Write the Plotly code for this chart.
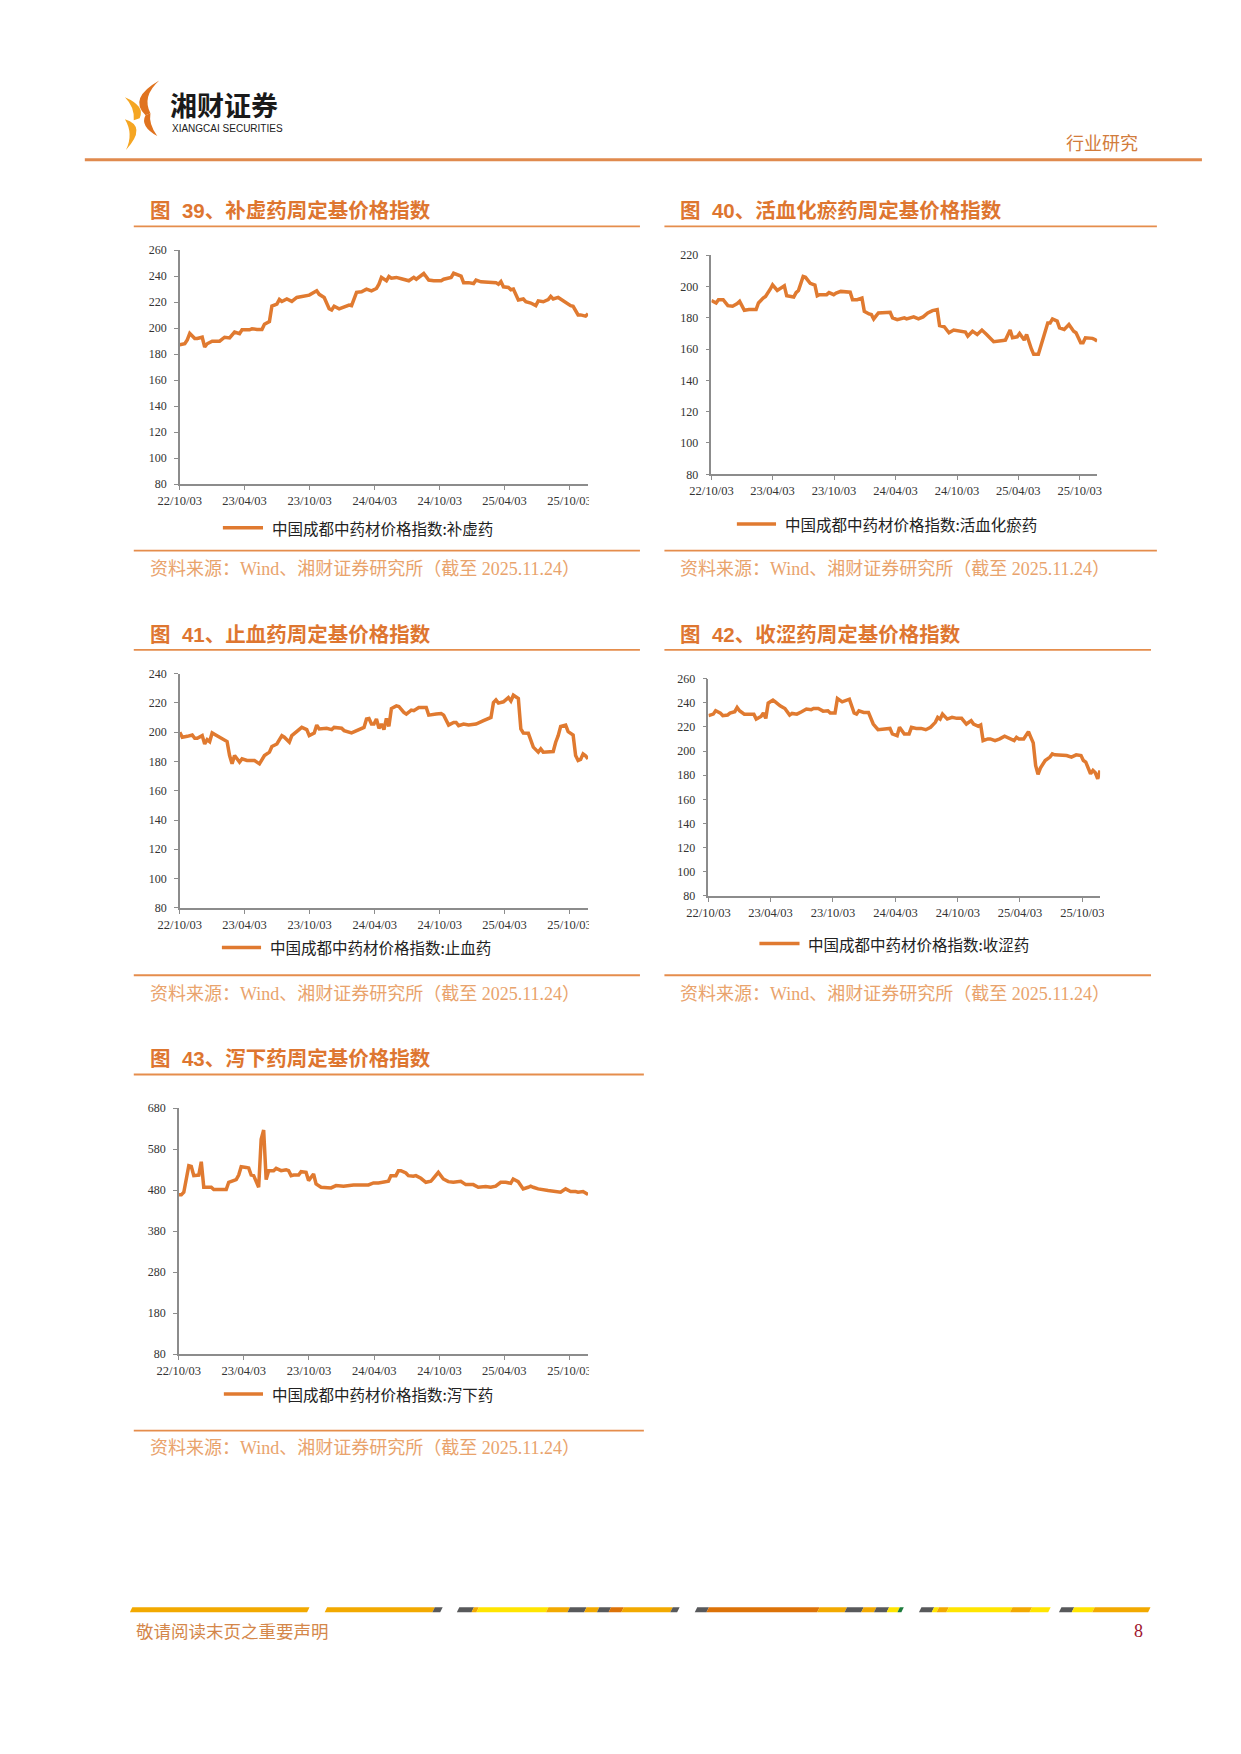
import plotly.graph_objects as go

# ---------------- data ----------------
dates_39 = ["2022-10-03","2022-10-17","2022-10-24","2022-10-31","2022-11-14","2022-11-21","2022-12-05","2022-12-12","2022-12-19",
            "2023-01-02","2023-01-23","2023-02-06","2023-02-20","2023-03-06","2023-03-20","2023-03-27","2023-04-17","2023-04-24",
            "2023-05-08","2023-05-22","2023-05-29","2023-06-12","2023-06-19","2023-07-03","2023-07-10","2023-07-17","2023-07-31",
            "2023-08-14","2023-08-28","2023-09-18","2023-10-02","2023-10-23","2023-10-30","2023-11-13","2023-11-27","2023-12-04",
            "2023-12-11","2023-12-25","2024-01-08","2024-01-22","2024-01-29","2024-02-12","2024-02-26","2024-03-11","2024-03-25",
            "2024-04-08","2024-04-15","2024-04-22","2024-05-06","2024-05-13","2024-05-20","2024-06-03","2024-06-17","2024-07-08",
            "2024-07-22","2024-07-29","2024-08-19","2024-09-02","2024-09-16","2024-10-07","2024-10-14","2024-11-04","2024-11-11",
            "2024-11-25","2024-12-02","2024-12-09","2024-12-23","2025-01-06","2025-01-13","2025-01-27","2025-02-24","2025-03-10",
            "2025-03-17","2025-03-24","2025-03-31","2025-04-14","2025-04-21","2025-04-28","2025-05-12","2025-05-26","2025-06-02",
            "2025-06-16","2025-06-30","2025-07-07","2025-07-21","2025-08-04","2025-08-11","2025-08-18","2025-09-01","2025-09-22",
            "2025-10-06","2025-10-13","2025-10-27","2025-11-03","2025-11-17","2025-11-24"]
values_39 = [187.3,188,191,196,192,192,193,185.5,188,
             190,190,193,192.5,197,195.7,198.7,198.7,199.5,
             199,199,203,205,217,218.5,222,220.5,222.4,
             220.6,223.6,225,225.4,228.7,226,223.6,215,214,
             216.8,214.8,216,217.8,217.3,227.5,228,230,228.7,
             230.5,233.8,239,236.4,239.7,238.4,239,238,236.4,
             239,237.6,242,237,236.4,236.4,237.6,239,242.2,
             240.7,240,235,235,234.3,236.9,235.6,235.6,235,
             233.8,235.8,231.8,231.3,229.5,230,221.6,222.4,220.3,
             219.3,217.3,221,220.3,222,224.4,222.4,223.6,219.8,
             217.3,216.8,210.2,210.2,209.2,211]

dates_40 = ["2022-10-03","2022-10-10","2022-10-17","2022-10-24","2022-11-07","2022-11-21","2022-12-05","2022-12-19","2022-12-26",
            "2023-01-09","2023-01-23","2023-02-13","2023-02-20","2023-03-06","2023-03-13","2023-03-27","2023-04-03","2023-04-17",
            "2023-05-08","2023-05-15","2023-06-05","2023-06-12","2023-06-19","2023-07-03","2023-07-10","2023-07-24","2023-08-07",
            "2023-08-14","2023-08-21","2023-09-11","2023-09-18","2023-10-02","2023-10-09","2023-10-23","2023-11-20","2023-11-27",
            "2023-12-11","2023-12-25","2024-01-01","2024-01-15","2024-01-22","2024-01-29","2024-02-12","2024-03-18","2024-03-25",
            "2024-04-08","2024-04-29","2024-05-06","2024-05-27","2024-06-10","2024-06-24","2024-07-08","2024-07-22","2024-08-05",
            "2024-08-12","2024-08-26","2024-09-09","2024-09-23","2024-10-14","2024-10-28","2024-11-04","2024-11-18","2024-12-02",
            "2024-12-16","2024-12-30","2025-01-20","2025-02-17","2025-02-24","2025-03-10","2025-03-17","2025-03-31","2025-04-07",
            "2025-04-21","2025-04-28","2025-05-12","2025-05-19","2025-06-02","2025-06-16","2025-06-30","2025-07-07","2025-07-14",
            "2025-07-28","2025-08-04","2025-08-18","2025-09-01","2025-09-15","2025-09-22","2025-10-06","2025-10-13","2025-10-20",
            "2025-11-10","2025-11-17","2025-11-24"]
values_40 = [191,190.4,189.4,191.5,191.5,187.7,187.3,189,190.4,
             184.7,185.2,185.2,189.4,192.5,193.6,198.2,201,197.4,
             200.4,194,193.2,196,197.4,206.3,205.8,202,200.8,
             194,194.7,194.7,196,194.7,195.7,196.8,196.3,191.5,
             191.5,192.5,184.1,182.4,182,179.2,183,183.5,179.9,
             178.8,179.9,179.2,180.5,179.2,180.5,183,184.5,185.2,
             175,174.2,170.4,172.1,171.4,170.8,168.3,171.4,169.3,
             172.1,169.3,164.7,165.5,165.7,172.1,167.2,167.8,169.9,
             165.7,169.3,160.2,156.6,156.6,167.2,176.7,176.7,179.2,
             177.8,173.5,172.5,175.6,171.4,170.4,164,164,167.2,
             166.8,166.1,165.1]

dates_41 = ["2022-10-03","2022-10-10","2022-10-24","2022-11-07","2022-11-14","2022-11-21","2022-12-05","2022-12-12","2022-12-19",
            "2022-12-26","2023-01-02","2023-01-16","2023-01-23","2023-02-13","2023-02-20","2023-02-27","2023-03-06","2023-03-20",
            "2023-03-27","2023-04-10","2023-05-01","2023-05-15","2023-05-29","2023-06-12","2023-06-19","2023-07-03","2023-07-17",
            "2023-07-24","2023-08-07","2023-08-14","2023-08-28","2023-09-11","2023-09-25","2023-10-02","2023-10-16","2023-10-23",
            "2023-10-30","2023-11-20","2023-12-04","2023-12-11","2024-01-01","2024-01-08","2024-01-29","2024-02-12","2024-03-04",
            "2024-03-11","2024-03-18","2024-03-25","2024-04-01","2024-04-08","2024-04-15","2024-04-22","2024-04-29","2024-05-06",
            "2024-05-13","2024-05-20","2024-06-03","2024-06-10","2024-06-24","2024-07-01","2024-07-15","2024-07-22","2024-08-05",
            "2024-08-26","2024-09-02","2024-09-23","2024-10-07","2024-10-14","2024-10-28","2024-11-11","2024-11-18","2024-11-25",
            "2024-12-09","2024-12-23","2025-01-06","2025-01-13","2025-02-03","2025-02-24","2025-03-03","2025-03-10","2025-03-17",
            "2025-03-31","2025-04-14","2025-04-21","2025-04-28","2025-05-12","2025-05-19","2025-05-26","2025-06-09","2025-06-23",
            "2025-07-07","2025-07-14","2025-07-21","2025-08-18","2025-08-25","2025-09-01","2025-09-08","2025-09-22","2025-09-29",
            "2025-10-13","2025-10-20","2025-10-27","2025-11-03","2025-11-10","2025-11-17","2025-11-24"]
values_41 = [200,196.6,197.2,198.1,195.9,195.9,197.7,192,195,
             193.6,199.5,197.2,196.6,193.6,184.1,178.4,184.1,179.6,
             181.8,180.7,180.7,178.4,184.1,186.4,190.2,192,197.7,
             196.6,193.2,197.7,200.4,203.3,201.8,197.7,199.5,204.9,
             202.2,202.7,201.8,203.3,202.7,201.1,199.5,201.1,203.3,
             209,209.4,205.6,205.6,209,202.7,205.6,201.8,209.4,
             204,216.2,218,217.6,213.5,212.4,215.1,214.7,216.9,
             216.9,211.7,212.4,212.8,211.7,204.9,206.7,206.7,204.5,
             205.6,204.9,205.6,205.6,207.9,210.1,220.3,222.1,219.9,
             220.8,223.7,221.4,225.3,223,202.2,199.5,199.3,189.8,
             186.4,188.6,186.4,186.8,193.2,197.7,204,204.9,200.4,
             198.1,184.1,180.7,181.4,185.2,183.9,181.8]

dates_42 = ["2022-10-03","2022-10-17","2022-10-24","2022-11-07","2022-11-14","2022-11-28","2022-12-05","2022-12-19","2022-12-26",
            "2023-01-02","2023-01-16","2023-01-30","2023-02-13","2023-02-20","2023-03-06","2023-03-13","2023-03-20","2023-03-27",
            "2023-04-10","2023-04-17","2023-05-01","2023-05-15","2023-05-29","2023-06-05","2023-06-19","2023-07-03","2023-07-17",
            "2023-07-31","2023-08-07","2023-08-21","2023-09-04","2023-09-18","2023-09-25","2023-10-09","2023-10-16","2023-10-30",
            "2023-11-13","2023-11-20","2023-12-04","2023-12-11","2023-12-18","2024-01-01","2024-01-15","2024-01-29","2024-02-12",
            "2024-03-04","2024-03-18","2024-03-25","2024-04-08","2024-04-15","2024-04-29","2024-05-13","2024-05-20","2024-06-03",
            "2024-06-17","2024-07-01","2024-07-15","2024-07-29","2024-08-05","2024-08-12","2024-08-19","2024-09-02","2024-09-16",
            "2024-09-30","2024-10-14","2024-10-28","2024-11-11","2024-11-18","2024-12-02","2024-12-09","2024-12-16","2024-12-30",
            "2025-01-06","2025-01-20","2025-02-03","2025-02-17","2025-03-03","2025-03-17","2025-03-24","2025-03-31","2025-04-14",
            "2025-04-28","2025-05-05","2025-05-12","2025-05-19","2025-05-26","2025-06-02","2025-06-16","2025-06-30","2025-07-07",
            "2025-07-14","2025-08-04","2025-08-18","2025-09-01","2025-09-15","2025-09-29","2025-10-06","2025-10-13","2025-10-20",
            "2025-10-27","2025-11-03","2025-11-10","2025-11-17","2025-11-24"]
values_42 = [229.3,230.6,233.4,231.5,229.3,229.8,231.5,232.6,236.1,
             233.4,230.6,230.6,230.6,226.5,228.7,231.5,227.1,239.7,
             242.2,240.8,237.5,235.3,229.8,231.2,230.6,232.6,234.8,
             234.2,235.3,235.3,233.1,233.4,231.5,231.5,243.5,240.8,
             242.4,243,231.5,230.6,233.4,232,232,222.4,217.7,
             218.3,218.8,214.2,212.8,219.7,214.2,214.2,219.7,218.8,
             218.8,217.7,219.7,223.8,227.9,226.5,230.6,226.5,227.9,
             227.1,227.1,222.4,225.2,222.4,220.5,221.6,208.7,210.1,
             210.1,208.7,210.1,212.3,210.1,208.7,211.4,210.1,210.1,
             216.1,211.4,206.8,188.1,180.7,185.9,192.2,195,197.7,
             196.9,196.9,196.3,195,196.9,196.3,192.2,190.8,185.4,
             181.2,184,182,177.1,184]

dates_43 = ["2022-10-03","2022-10-10","2022-10-17","2022-10-31","2022-11-07","2022-11-14","2022-11-28","2022-12-05","2022-12-12",
            "2022-12-26","2023-01-02","2023-01-09","2023-01-23","2023-02-13","2023-02-20","2023-03-06","2023-03-13","2023-03-20",
            "2023-03-27","2023-04-10","2023-04-17","2023-04-24","2023-05-01","2023-05-15","2023-05-22","2023-05-29","2023-06-05",
            "2023-06-12","2023-06-26","2023-07-03","2023-07-17","2023-07-31","2023-08-07","2023-08-14","2023-08-21","2023-09-04",
            "2023-09-11","2023-09-25","2023-10-02","2023-10-16","2023-10-23","2023-11-06","2023-11-20","2023-12-04","2023-12-18",
            "2024-01-08","2024-02-05","2024-03-04","2024-03-18","2024-04-01","2024-04-15","2024-05-13","2024-05-20","2024-06-03",
            "2024-06-10","2024-06-17","2024-07-01","2024-07-08","2024-07-22","2024-07-29","2024-08-12","2024-08-26","2024-09-09",
            "2024-09-16","2024-09-30","2024-10-14","2024-10-28","2024-11-11","2024-12-02","2024-12-16","2025-01-06","2025-01-20",
            "2025-02-10","2025-02-24","2025-03-10","2025-03-24","2025-04-07","2025-04-21","2025-04-28","2025-05-12","2025-05-26",
            "2025-06-09","2025-06-16","2025-06-23","2025-07-07","2025-08-04","2025-09-08","2025-09-22","2025-10-06","2025-10-20",
            "2025-10-27","2025-11-10","2025-11-24"]
values_43 = [468.7,468.7,475,539.7,538,515.5,517,549.3,487.2,
             487.2,487.2,481.6,481.6,481.6,499.3,503.4,505.8,517,
             537.2,535.6,534,517,515.5,487.2,604.2,626.8,505.8,
             527.6,527.6,533.2,527.6,530,527.6,515.5,517,517,
             525.2,523.5,503.4,519.5,495.3,487.2,487.2,485.6,491.3,
             489.7,492.9,492.9,492.9,497.7,497.7,501.8,515.5,515.5,
             527.6,527.6,521.9,515.5,513.9,515.5,509,499.3,501.8,
             509,523.5,507.4,500.9,499.3,501.8,493.7,493.7,487.2,
             488.9,487.2,489.7,499.3,499.3,496.9,507.4,500.9,483.2,
             487.2,489.7,487.2,483.2,479.2,475.2,483.2,476.8,476.8,
             475.2,476.8,469.5]

series_names = ["中国成都中药材价格指数:补虚药", "中国成都中药材价格指数:活血化瘀药",
                "中国成都中药材价格指数:止血药", "中国成都中药材价格指数:收涩药",
                "中国成都中药材价格指数:泻下药"]
chart_titles = ["图  39、补虚药周定基价格指数", "图  40、活血化瘀药周定基价格指数",
                "图  41、止血药周定基价格指数", "图  42、收涩药周定基价格指数",
                "图  43、泻下药周定基价格指数"]
source_text = "资料来源：Wind、湘财证券研究所（截至 2025.11.24）"
y_ranges = [(80, 260), (80, 220), (80, 240), (80, 260), (80, 680)]
y_steps = [20, 20, 20, 20, 100]
x_range = ["2022-10-03", "2025-11-24"]
x_tick_start = "2022-10-03"

all_dates = [dates_39, dates_40, dates_41, dates_42, dates_43]
all_values = [values_39, values_40, values_41, values_42, values_43]

# ---------------- layout geometry (pixels) ----------------
W, H = 1241, 1754
def fx(x): return x / W
def fy(y): return 1 - y / H

LINE_C = "#E07A30"
TITLE_C = "#DE7630"
RULE_C = "#E58D4C"
SRC_C = "#E9A36C"
AXIS_C = "#8C8C8C"
SERIF = "Liberation Serif, Noto Sans CJK SC"
CJK = "Noto Sans CJK SC"

# plot boxes: (x0, x1, ytop, ybottom)
boxes = [(153, 570, 237, 473), (696, 1090, 242, 463), (153, 570, 664, 900),
         (693, 1093, 669, 888), (152, 570, 1102, 1350)]
titles_pos = [(121, 197), (662, 197), (121, 624), (662, 624), (121, 1052)]
rules = [(106, 623, 213, 540), (648, 1151, 213, 540), (106, 623, 640, 968),
         (648, 1145, 640, 968), (106, 627, 1068, 1427)]
source_y = [558, 558, 987, 987, 1445]
source_x = [121, 662, 121, 662, 121]
# legend: line x0, line x1, text x, y
legend_geom = [(197, 238, 245, 517), (722, 762, 769, 513), (196, 236, 243, 940),
               (745, 786, 793, 936), (198, 238, 245, 1390)]
clip_x = [571, None, 571, 1097, 571]

fig = go.Figure()
layout = dict(width=W, height=H, margin=dict(l=0, r=0, t=0, b=0),
              paper_bgcolor="white", plot_bgcolor="white", showlegend=False)
shapes, annotations = [], []

for i in range(5):
    k = "" if i == 0 else str(i + 1)
    x0, x1, yt, yb = boxes[i]
    fig.add_trace(go.Scatter(x=all_dates[i], y=all_values[i], mode="lines", name=series_names[i],
                             line=dict(color=LINE_C, width=3.5), xaxis="x" + k, yaxis="y" + k))
    layout["xaxis" + k] = dict(domain=[fx(x0), fx(x1)], anchor="y" + k, type="date",
                               range=x_range, tick0=x_tick_start, dtick="M6", tickformat="%y/%m/%d",
                               showgrid=False, zeroline=False, showline=True, linecolor=AXIS_C, linewidth=1.5,
                               ticks="outside", ticklen=4, tickcolor=AXIS_C, tickwidth=1,
                               tickfont=dict(family=SERIF, size=12.5, color="#333333"))
    ylo, yhi = y_ranges[i]
    layout["yaxis" + k] = dict(domain=[fy(yb), fy(yt)], anchor="x" + k, range=[ylo, yhi],
                               tick0=ylo, dtick=y_steps[i], showgrid=False, zeroline=False,
                               showline=True, linecolor=AXIS_C, linewidth=1.5,
                               ticks="outside", ticklen=4, tickcolor=AXIS_C, tickwidth=1,
                               ticklabelstandoff=5,
                               tickfont=dict(family=SERIF, size=12, color="#333333"))
    # legend entry
    lx0, lx1, ltx, ly = legend_geom[i]
    shapes.append(dict(type="line", xref="paper", yref="paper", x0=fx(lx0), x1=fx(lx1), y0=fy(ly), y1=fy(ly),
                       line=dict(color=LINE_C, width=3.5)))
    annotations.append(dict(text=series_names[i], x=fx(ltx), y=fy(ly), xref="paper", yref="paper",
                            xanchor="left", yanchor="middle", showarrow=False,
                            font=dict(family=CJK, size=15.5, color="#222222")))
    tx, ty = titles_pos[i]
    annotations.append(dict(text="<b>%s</b>" % chart_titles[i], x=fx(tx), y=fy(ty), xref="paper", yref="paper",
                            xanchor="left", yanchor="middle", showarrow=False,
                            font=dict(family="Liberation Sans, Noto Sans CJK SC", size=20.5, color=TITLE_C)))
    annotations.append(dict(text=source_text, x=fx(source_x[i]), y=fy(source_y[i]), xref="paper", yref="paper",
                            xanchor="left", yanchor="middle", showarrow=False,
                            font=dict(family=SERIF, size=18, color=SRC_C)))
    r0, r1, rt, rb = rules[i]
    for ry in (rt, rb):
        shapes.append(dict(type="line", xref="paper", yref="paper", x0=fx(r0), x1=fx(r1), y0=fy(ry), y1=fy(ry),
                           line=dict(color=RULE_C, width=1.8)))
    if clip_x[i] is not None:
        lab_y = yb + 15
        shapes.append(dict(type="rect", xref="paper", yref="paper", layer="above",
                           x0=fx(clip_x[i]), x1=fx(clip_x[i] + 25), y0=fy(lab_y + 9), y1=fy(lab_y - 9),
                           fillcolor="white", line=dict(width=0)))

# ---------------- header ----------------
def path_px(cmds):
    out = []
    for c in cmds:
        if isinstance(c, str):
            out.append(c)
        else:
            out.append("%.5f,%.5f" % (fx(c[0]), fy(c[1])))
    return " ".join(out)

# logo mark
shapes.append(dict(type="path", xref="paper", yref="paper", fillcolor="#E0731F", line=dict(width=0),
                   path=path_px(["M", (132, 66), "Q", (100, 84), (118, 101), "L", (123, 99), "Q", (114, 82), (132, 66), "Z"])))
shapes.append(dict(type="path", xref="paper", yref="paper", fillcolor="#E0731F", line=dict(width=0),
                   path=path_px(["M", (118, 101), "Q", (112, 112), (130, 122), "Q", (121, 110), (123, 99), "Z"])))
shapes.append(dict(type="path", xref="paper", yref="paper", fillcolor="#F5A623", line=dict(width=0),
                   path=path_px(["M", (97, 83), "Q", (118, 92), (112, 104), "L", (106, 106), "Q", (107, 93), (97, 83), "Z"])))
shapes.append(dict(type="path", xref="paper", yref="paper", fillcolor="#F5A623", line=dict(width=0),
                   path=path_px(["M", (97, 105), "Q", (120, 112), (98, 136), "Q", (106, 120), (97, 105), "Z"])))
annotations.append(dict(text="<b>湘财证券</b>", x=fx(141), y=fy(90), xref="paper", yref="paper",
                        xanchor="left", yanchor="middle", showarrow=False,
                        font=dict(family=CJK, size=27, color="#1A1A1A")))
annotations.append(dict(text="XIANGCAI SECURITIES", x=fx(143), y=fy(114), xref="paper", yref="paper",
                        xanchor="left", yanchor="middle", showarrow=False,
                        font=dict(family="Liberation Sans Narrow, Liberation Sans", size=10, color="#1A1A1A")))
annotations.append(dict(text="行业研究", x=fx(1056), y=fy(128), xref="paper", yref="paper",
                        xanchor="left", yanchor="middle", showarrow=False,
                        font=dict(family=CJK, size=18, color="#D27C3C")))
shapes.append(dict(type="line", xref="paper", yref="paper", x0=fx(56), x1=fx(1197), y0=fy(146), y1=fy(146),
                   line=dict(color="#E08A4E", width=3)))

# ---------------- footer ----------------
AMB, YEL, GRY, DOR, GRN = "#F2A900", "#FFE500", "#58595B", "#DC7208", "#1E7B3C"
footer_segments = [(103, 284, AMB), (302, 412, AMB), (412, 420, GRY),
                   (437, 452, GRY), (452, 457, AMB), (457, 528, YEL), (528, 550, AMB), (550, 567, GRY),
                   (567, 580, AMB), (580, 592, GRY), (592, 605, DOR), (605, 655, AMB), (655, 662, GRY),
                   (680, 692, GRY), (692, 805, DOR), (805, 833, AMB), (833, 850, GRY), (850, 863, AMB),
                   (863, 876, GRY), (876, 887, YEL), (887, 891, GRN),
                   (909, 922, GRY), (922, 927, YEL), (927, 937, AMB), (937, 1002, YEL), (1002, 1022, AMB),
                   (1022, 1041, YEL), (1052, 1065, GRY), (1065, 1086, YEL), (1086, 1143, AMB)]
for a, b, c in footer_segments:
    shapes.append(dict(type="path", xref="paper", yref="paper", fillcolor=c, line=dict(width=0),
                       path=path_px(["M", (a + 1.5, 1605), "L", (b + 1.5, 1605), "L", (b - 1, 1610), "L", (a - 1, 1610), "Z"])))
annotations.append(dict(text="敬请阅读末页之重要声明", x=fx(106), y=fy(1628), xref="paper", yref="paper",
                        xanchor="left", yanchor="middle", showarrow=False,
                        font=dict(family=CJK, size=17.5, color="#D4874A")))
annotations.append(dict(text="8", x=fx(1132), y=fy(1629), xref="paper", yref="paper",
                        xanchor="center", yanchor="middle", showarrow=False,
                        font=dict(family="Liberation Serif", size=18, color="#A0142E")))

layout["shapes"] = shapes
layout["annotations"] = annotations
fig.update_layout(**layout)
fig.write_html("out.html")
